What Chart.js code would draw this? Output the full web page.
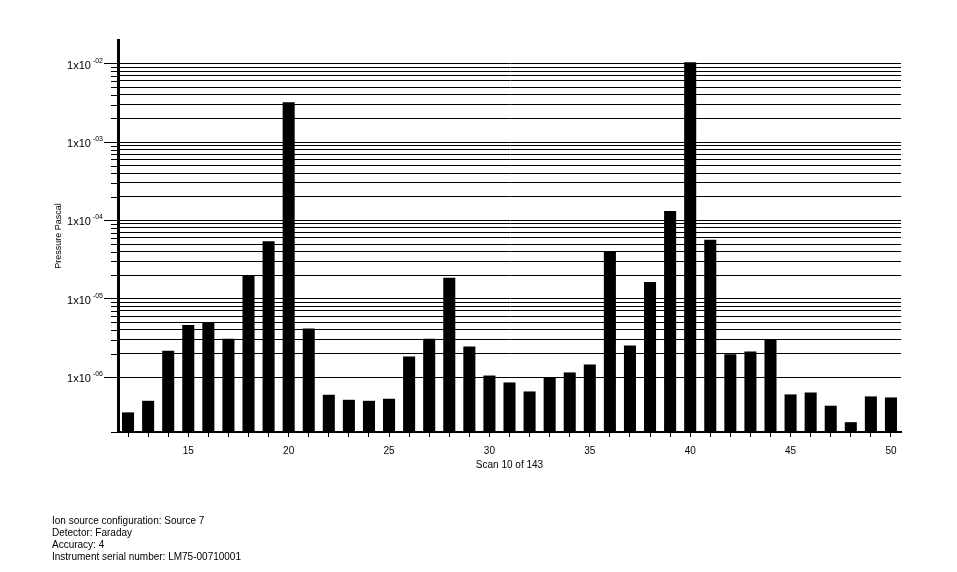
<!DOCTYPE html>
<html>
<head>
<meta charset="utf-8">
<script src="https://cdn.jsdelivr.net/npm/chart.js@4/dist/chart.umd.min.js"></script>
<style>
  html, body { margin: 0; padding: 0; background: #fff; }
  #wrap { position: relative; width: 957px; height: 572px; }
  #footer { position: absolute; left: 52px; top: 515px; font: 10px "Liberation Sans", Arial, sans-serif; line-height: 12px; color: #000; }
</style>
</head>
<body>
<div id="wrap">
  <canvas id="c" width="957" height="572"></canvas>
  <div id="footer">
    <div>Ion source configuration: Source 7</div>
    <div>Detector: Faraday</div>
    <div>Accuracy: 4</div>
    <div>Instrument serial number: LM75-00710001</div>
  </div>
</div>
<script>
const categories = ['12','13','14','15','16','17','18','19','20','21','22','23','24','25','26','27','28','29','30','31','32','33','34','35','36','37','38','39','40','41','42','43','44','45','46','47','48','49','50'];
const pressure = [3.56e-7, 5.0e-7, 2.17e-6, 4.64e-6, 4.92e-6, 3.1e-6, 1.99e-5, 5.43e-5, 3.22e-3, 4.17e-6,
                  5.97e-7, 5.15e-7, 5.0e-7, 5.31e-7, 1.83e-6, 3.1e-6, 1.85e-5, 2.46e-6, 1.05e-6, 8.57e-7,
                  6.58e-7, 9.82e-7, 1.15e-6, 1.45e-6, 4.06e-5, 2.53e-6, 1.64e-5, 1.32e-4, 1.04e-2, 5.65e-5,
                  1.96e-6, 2.12e-6, 2.99e-6, 6.03e-7, 6.38e-7, 4.33e-7, 2.67e-7, 5.69e-7, 5.52e-7];
const xTickLabels = ['15','20','25','30','35','40','45','50'];
const yDecades = [1e-2, 1e-3, 1e-4, 1e-5, 1e-6];
const yTickBase = '1x10';
const yTickExponents = ['-02', '-03', '-04', '-05', '-06'];
const yMin = 2e-7, yMax = 2e-2;

const FONT = '"Liberation Sans", Arial, sans-serif';

function decadeIndex(v) {
  return yDecades.findIndex(d => Math.abs(v / d - 1) < 1e-6);
}
function isDecade(v) { return decadeIndex(v) >= 0; }

const axisDecor = {
  id: 'axisDecor',
  afterDraw(chart) {
    const y = chart.scales.y, ctx = chart.ctx;
    const left = chart.chartArea.left;
    ctx.save();
    ctx.strokeStyle = '#000';
    ctx.fillStyle = '#000';
    ctx.lineWidth = 1;
    y.ticks.forEach(t => {
      const py = Math.round(y.getPixelForValue(t.value)) + 0.5;
      const i = decadeIndex(t.value);
      if (i < 0) {
        ctx.beginPath();
        ctx.moveTo(left - 7, py);
        ctx.lineTo(left, py);
        ctx.stroke();
      } else {
        // decade label with superscript exponent
        const expRight = left - 15;
        ctx.textBaseline = 'alphabetic';
        ctx.textAlign = 'right';
        ctx.font = '7px ' + FONT;
        const ew = ctx.measureText(yTickExponents[i]).width;
        ctx.fillText(yTickExponents[i], expRight, py - 2);
        ctx.font = '11px ' + FONT;
        ctx.fillText(yTickBase, expRight - ew - 2, py + 4);
      }
    });
    ctx.restore();
  }
};

new Chart(document.getElementById('c'), {
  type: 'bar',
  data: {
    labels: categories,
    datasets: [{
      data: pressure,
      backgroundColor: '#000',
      borderWidth: 0,
      barPercentage: 0.6,
      categoryPercentage: 1.0
    }]
  },
  options: {
    responsive: false,
    animation: false,
    layout: { padding: { left: 0, right: 56, top: 40, bottom: 101 } },
    plugins: { legend: { display: false }, tooltip: { enabled: false } },
    scales: {
      x: {
        type: 'category',
        offset: true,
        grid: { display: true, drawOnChartArea: false, tickLength: 5, tickColor: '#000', offset: false },
        border: { display: true, color: '#000', width: 2 },
        ticks: {
          autoSkip: false, maxRotation: 0, minRotation: 0, padding: 8,
          color: '#000', font: { family: FONT, size: 10 },
          callback: function(v) {
            const l = this.getLabelForValue(v);
            return xTickLabels.includes(l) ? l : '';
          }
        },
        title: { display: true, text: 'Scan 10 of 143', color: '#000', font: { family: FONT, size: 10 }, padding: 0 },
        afterFit(scale) { scale.height = 39; }
      },
      y: {
        type: 'logarithmic',
        min: yMin, max: yMax,
        afterBuildTicks(scale) {
          const t = [];
          yDecades.slice().reverse().forEach(d => {
            for (let m = 1; m <= 9; m++) {
              const v = d * m;
              if (v >= yMin * 0.999 && v < yMax * 0.999) t.push({ value: v });
            }
          });
          t.push({ value: 2e-7 });
          scale.ticks = t.sort((a, b) => a.value - b.value);
        },
        grid: {
          color: '#000', lineWidth: 1, tickLength: 14,
          tickColor: ctx => (ctx.tick && isDecade(ctx.tick.value)) ? '#000' : 'rgba(0,0,0,0)'
        },
        border: { display: true, color: '#000', width: 3 },
        ticks: {
          autoSkip: false, padding: 1, color: '#000',
          font: { family: FONT, size: 10 },
          callback: () => ''
        },
        title: { display: true, text: 'Pressure Pascal', color: '#000', font: { family: FONT, size: 9 }, padding: { top: 53, bottom: 0 } },
        afterFit(scale) { scale.width = 118; }
      }
    }
  },
  plugins: [axisDecor]
});
</script>
</body>
</html>
